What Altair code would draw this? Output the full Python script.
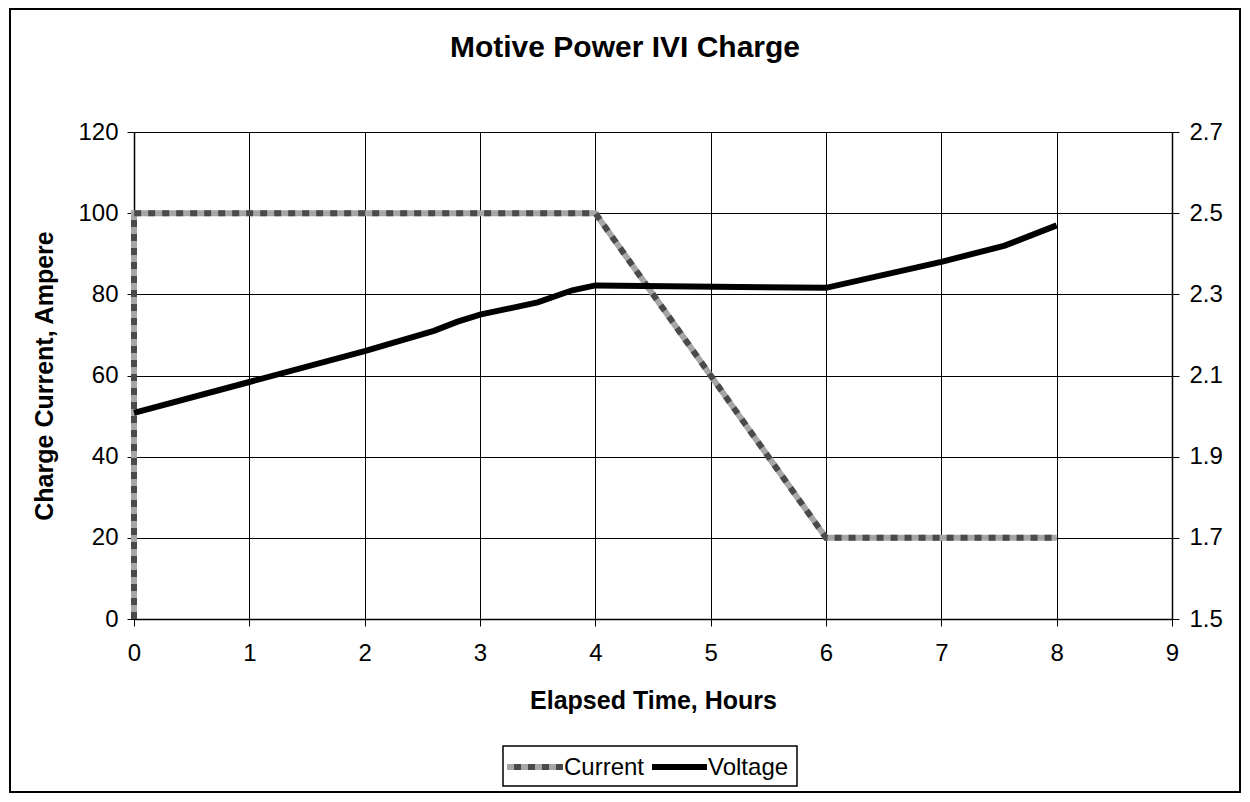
import altair as alt
import pandas as pd

TITLE = "Motive Power IVI Charge"
X_TITLE = "Elapsed Time, Hours"
Y_TITLE = "Charge Current, Ampere"
SERIES = ["Current", "Voltage"]

current_time = [0, 0, 4, 6, 8]
current_amps = [0, 100, 100, 20, 20]

voltage_time = [0, 1, 2, 2.6, 2.8, 3, 3.5, 3.8, 4, 6, 7, 7.55, 8]
voltage_volts = [2.008, 2.084, 2.16, 2.21, 2.232, 2.25, 2.28, 2.31, 2.322, 2.316, 2.38, 2.42, 2.47]

x_ticks = [0, 1, 2, 3, 4, 5, 6, 7, 8, 9]
amp_ticks = [0, 20, 40, 60, 80, 100, 120]
volt_ticks = [1.5, 1.7, 1.9, 2.1, 2.3, 2.5, 2.7]

LIGHT = "#a6a6a6"
DARK = "#4a4a4a"
FONT = "Liberation Sans"

df_cur = pd.DataFrame({"time": current_time, "amps": current_amps}).reset_index()
df_volt = pd.DataFrame({"time": voltage_time, "volts": voltage_volts})
one = pd.DataFrame({"k": [0]})

x_enc = alt.X(
    "time:Q",
    scale=alt.Scale(domain=[0, 9], nice=False),
    axis=alt.Axis(
        values=x_ticks, format="d", grid=True, gridColor="black", gridWidth=1, gridOpacity=1,
        tickColor="black", tickSize=7, domainColor="black", domainWidth=1.5,
        labelFontSize=24, labelColor="black", labelPadding=15, labelFont=FONT,
        labelFlush=False, labelOverlap=False,
        title=X_TITLE, titleFontSize=25, titleFontWeight="bold", titleColor="black",
        titlePadding=23, titleFont=FONT,
    ),
)

y_left = alt.Y(
    "amps:Q",
    scale=alt.Scale(domain=[0, 120], nice=False),
    axis=alt.Axis(
        values=amp_ticks, format="d", grid=True, gridColor="black", gridWidth=1, gridOpacity=1,
        tickColor="black", tickSize=7, domainColor="black", domainWidth=1.5,
        labelFontSize=24, labelColor="black", labelPadding=9, labelFont=FONT,
        labelFlush=False, labelOverlap=False,
        title=Y_TITLE, titleFontSize=25, titleFontWeight="bold", titleColor="black",
        titlePadding=20, titleFont=FONT, titleLimit=400,
    ),
)

cur_light = alt.Chart(df_cur).mark_line(color=LIGHT, strokeWidth=6).encode(
    x=x_enc, y=y_left, order="index:Q"
)
cur_dark = alt.Chart(df_cur).mark_line(color=DARK, strokeWidth=6, strokeDash=[7, 7]).encode(
    x=alt.X("time:Q"), y=alt.Y("amps:Q"), order="index:Q"
)

volt = alt.Chart(df_volt).mark_line(color="black", strokeWidth=6).encode(
    x=alt.X("time:Q"),
    y=alt.Y(
        "volts:Q",
        scale=alt.Scale(domain=[1.5, 2.7], nice=False),
        axis=alt.Axis(
            orient="right", values=volt_ticks, format=".1f", grid=False,
            tickColor="black", tickSize=7, domainColor="black", domainWidth=1.5,
            labelFontSize=24, labelColor="black", labelPadding=10, labelFont=FONT,
            labelFlush=False, labelOverlap=False,
            title=None,
        ),
    ),
)

left_layers = alt.layer(cur_light, cur_dark)

# decorations: outer frame, title, legend
frame = alt.Chart(one).mark_rect(fillOpacity=0, stroke="black", strokeWidth=2).encode(
    x=alt.value(-124), x2=alt.value(1106), y=alt.value(-123), y2=alt.value(660)
)
title = alt.Chart(one).mark_text(
    font=FONT, fontSize=30, fontWeight="bold", color="black", align="center", baseline="middle"
).encode(x=alt.value(491), y=alt.value(-84), text=alt.value(TITLE))

leg_box = alt.Chart(one).mark_rect(fill="white", stroke="black", strokeWidth=1.5).encode(
    x=alt.value(369), x2=alt.value(663), y=alt.value(614), y2=alt.value(654)
)
leg_cur1 = alt.Chart(one).mark_rule(color=LIGHT, strokeWidth=6).encode(
    x=alt.value(373), x2=alt.value(429), y=alt.value(635)
)
leg_cur2 = alt.Chart(one).mark_rule(color=DARK, strokeWidth=6, strokeDash=[7, 7]).encode(
    x=alt.value(380), x2=alt.value(429), y=alt.value(635)
)
leg_volt = alt.Chart(one).mark_rule(color="black", strokeWidth=6).encode(
    x=alt.value(518), x2=alt.value(573), y=alt.value(635)
)
leg_t1 = alt.Chart(one).mark_text(font=FONT, fontSize=24, color="black", align="left", baseline="middle").encode(
    x=alt.value(430), y=alt.value(636), text=alt.value(SERIES[0])
)
leg_t2 = alt.Chart(one).mark_text(font=FONT, fontSize=24, color="black", align="left", baseline="middle").encode(
    x=alt.value(574), y=alt.value(636), text=alt.value(SERIES[1])
)

chart = (
    alt.layer(left_layers, volt, frame, title, leg_box, leg_cur1, leg_cur2, leg_volt, leg_t1, leg_t2)
    .resolve_scale(y="independent")
    .properties(
        width=1038, height=487,
        autosize=alt.AutoSizeParams(type="none"),
        padding={"left": 126, "top": 124, "right": 70, "bottom": 175},
        background="white",
    )
    .configure_view(stroke="black", strokeWidth=1.5)
    .configure(font=FONT)
)

chart.save("out.html", embed_options={"renderer": "svg", "actions": False})
